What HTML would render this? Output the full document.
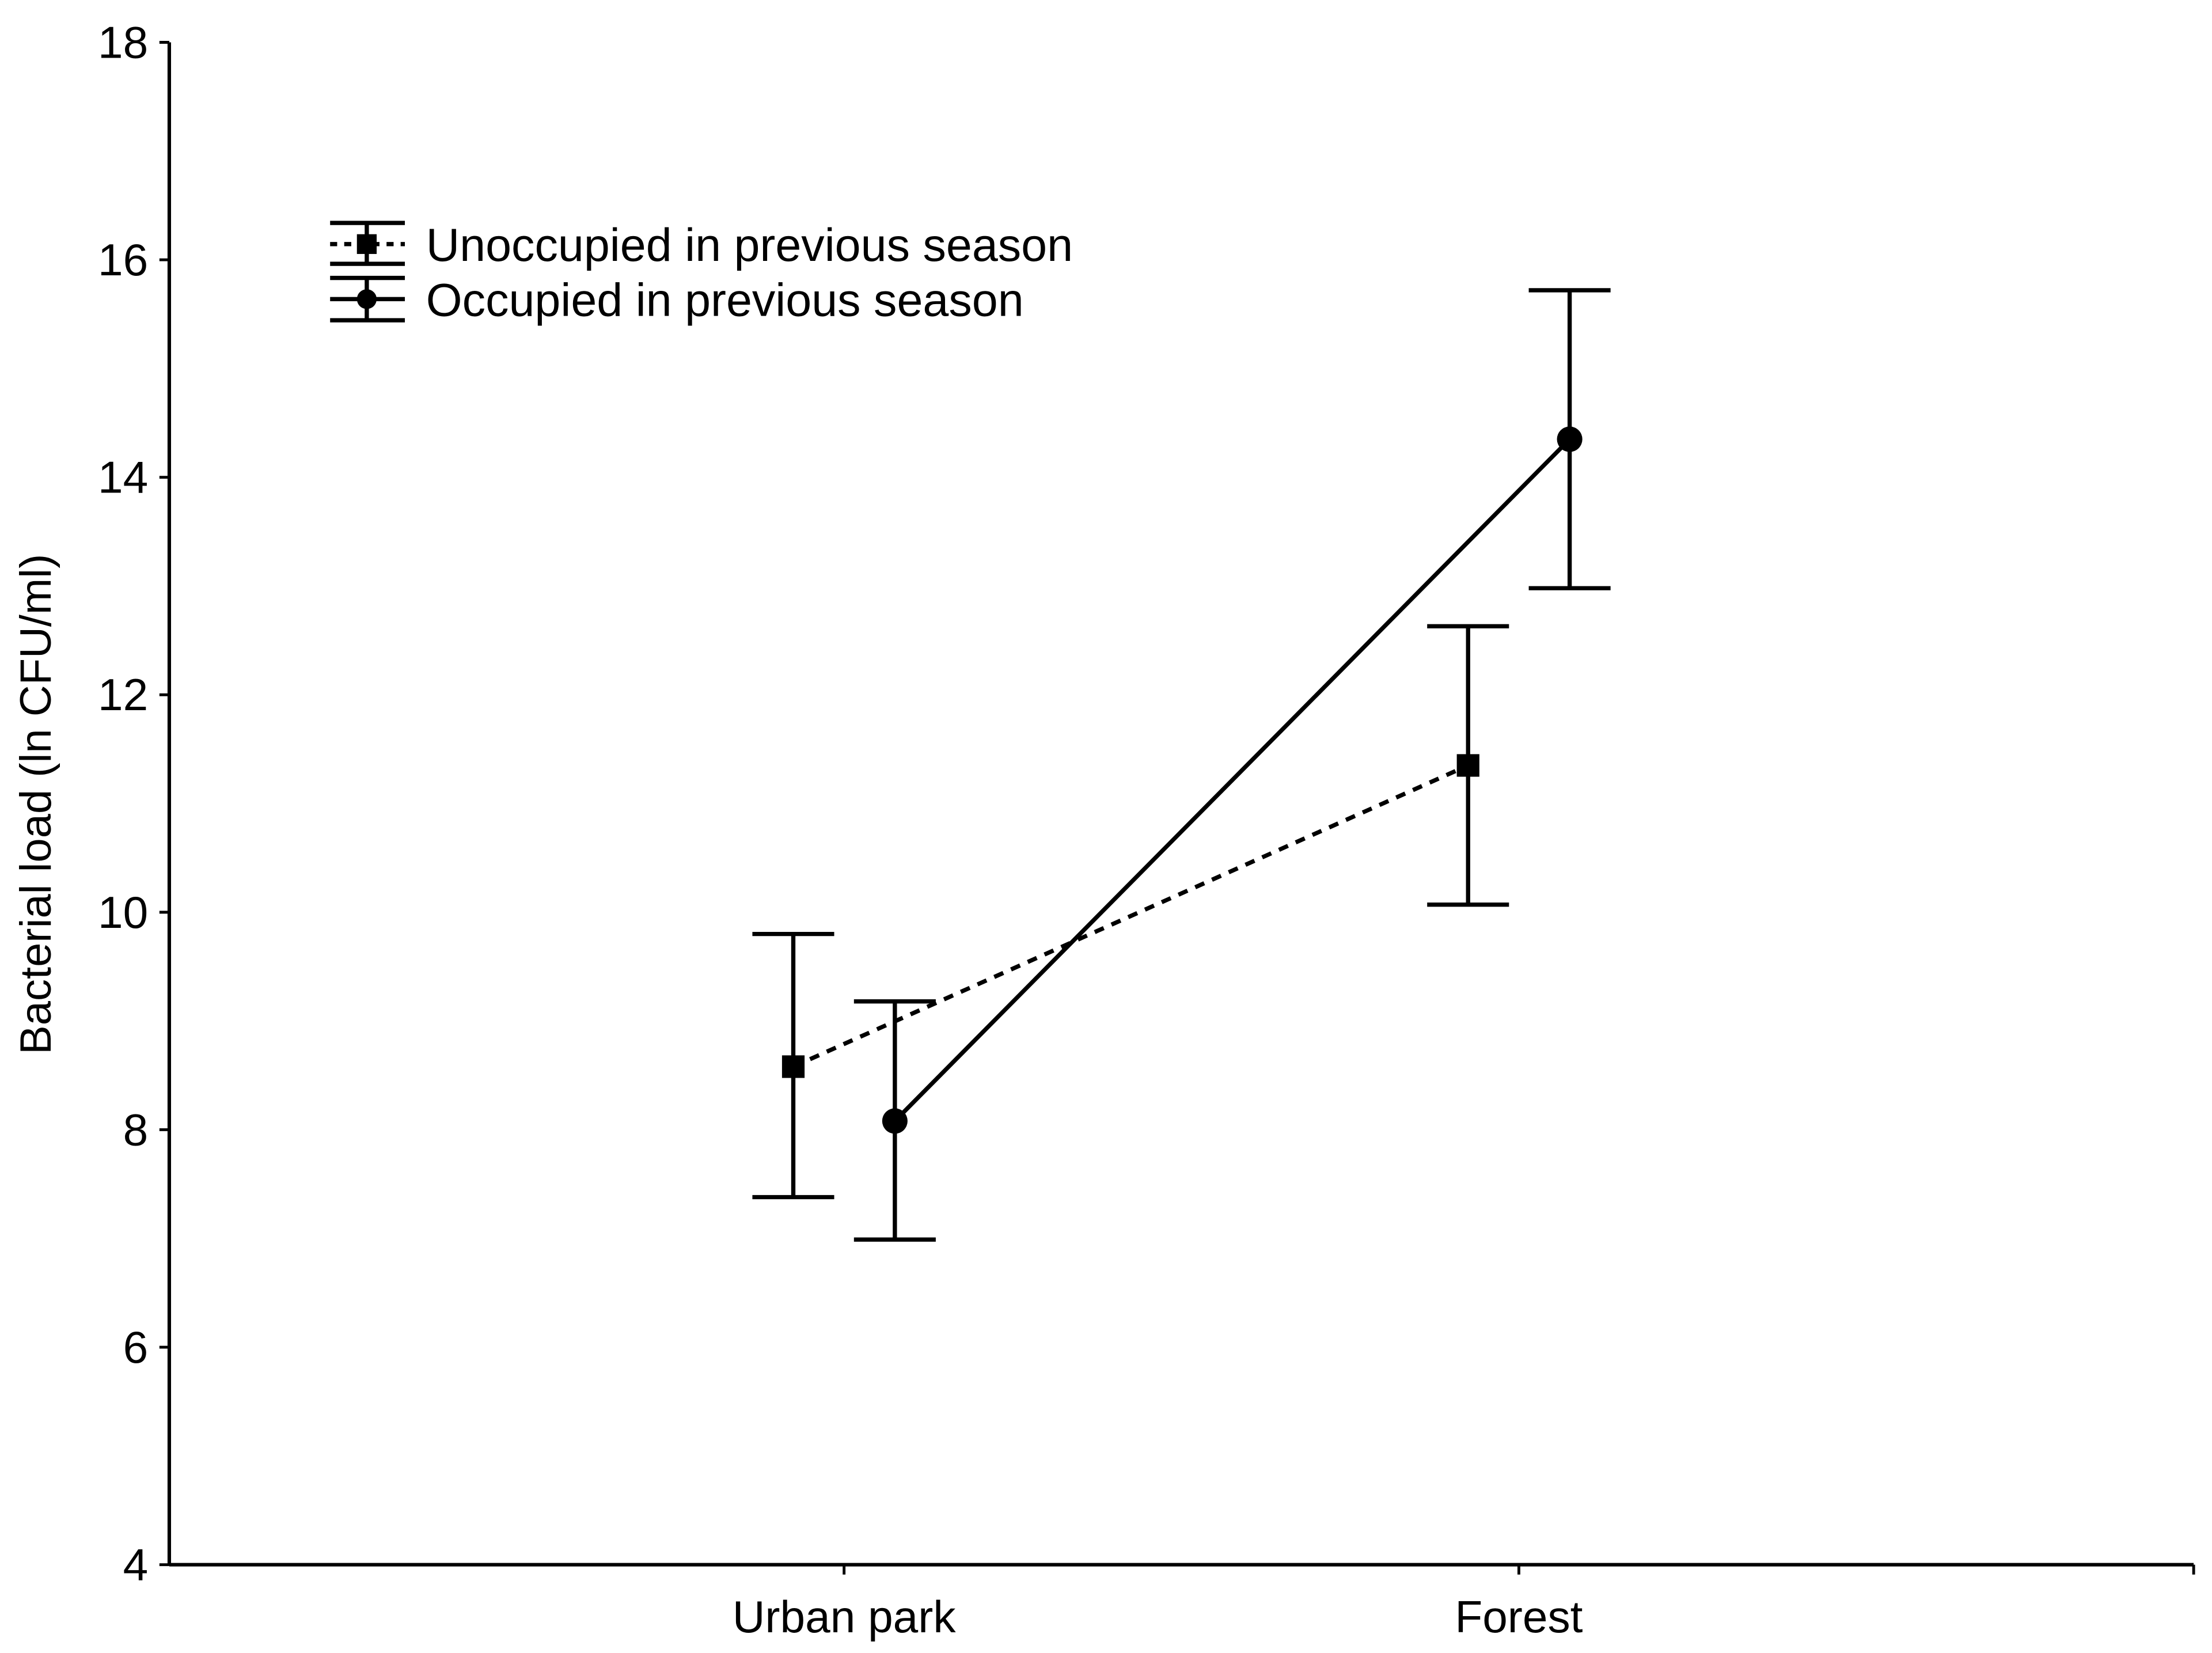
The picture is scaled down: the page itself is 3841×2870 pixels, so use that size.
<!DOCTYPE html>
<html><head><meta charset="utf-8"><style>
html,body{margin:0;padding:0;background:#fff;}
svg{display:block;}
text{font-family:"Liberation Sans",Arial,sans-serif;fill:#000;}
</style></head><body>
<svg id="chart" width="3841" height="2870" viewBox="0 0 1568 1171.6" xmlns="http://www.w3.org/2000/svg">
<g id="axes"></g>
<g id="marks"></g>
<g id="legend">
  <line x1="234" y1="158" x2="287" y2="158" stroke="#000" stroke-width="3"/>
  <line x1="234" y1="187" x2="287" y2="187" stroke="#000" stroke-width="3"/>
  <line x1="260" y1="158" x2="260" y2="187" stroke="#000" stroke-width="3"/>
  <line x1="234" y1="173" x2="287" y2="173" stroke="#000" stroke-width="3" stroke-dasharray="5,5"/>
  <rect x="253" y="166" width="14" height="14" fill="#000"/>
  <line x1="234" y1="197" x2="287" y2="197" stroke="#000" stroke-width="3"/>
  <line x1="234" y1="227" x2="287" y2="227" stroke="#000" stroke-width="3"/>
  <line x1="260" y1="197" x2="260" y2="227" stroke="#000" stroke-width="3"/>
  <line x1="234" y1="212" x2="287" y2="212" stroke="#000" stroke-width="3"/>
  <circle cx="260" cy="212" r="7" fill="#000"/>
  <text x="302" y="185" font-size="33">Unoccupied in previous season</text>
  <text x="302" y="224" font-size="33">Occupied in previous season</text>
</g>
</svg>
<script>
const categories = ["Urban park", "Forest"];
const yTicks = [4, 6, 8, 10, 12, 14, 16, 18];
const unoccMean = [8.58, 11.35];
const unoccLow = [7.38, 10.07];
const unoccHigh = [9.80, 12.63];
const occMean = [8.08, 14.35];
const occLow = [6.99, 12.98];
const occHigh = [9.18, 15.72];

const NS = "http://www.w3.org/2000/svg";
const X0 = 120, X1 = 1555, YT = 30, YB = 1109;
const yMin = 4, yMax = 18;
function yScale(v){ return YB - (v - yMin) / (yMax - yMin) * (YB - YT); }
function xScale(i){ return X0 + (i + 1) * (X1 - X0) / (categories.length + 1); }
function mk(tag, attrs, parent){
  const e = document.createElementNS(NS, tag);
  for (const k in attrs) e.setAttribute(k, attrs[k]);
  parent.appendChild(e); return e;
}
const axes = document.getElementById('axes');
const marks = document.getElementById('marks');
let el = mk('line', {x1:X0, y1:YT, x2:X0, y2:YB, stroke:'#000', 'stroke-width':2.5}, axes);


el = mk('line', {x1:X0, y1:YB, x2:X1, y2:YB, stroke:'#000', 'stroke-width':2.5}, axes);


mk('line', {x1:X1, y1:YB, x2:X1, y2:YB+7, stroke:'#000', 'stroke-width':2}, axes);
yTicks.forEach(v => {
  const y = yScale(v);
  mk('line', {x1:X0-7, y1:y, x2:X0, y2:y, stroke:'#000', 'stroke-width':2}, axes);
  const t = mk('text', {x:X0-15, y:y+11, 'font-size':32, 'text-anchor':'end'}, axes);
  t.textContent = v;
  
  
});
categories.forEach((c, i) => {
  const x = xScale(i);
  mk('line', {x1:x, y1:YB, x2:x, y2:YB+7, stroke:'#000', 'stroke-width':2}, axes);
  const t = mk('text', {x:x, y:1157, 'font-size':32, 'text-anchor':'middle'}, axes);
  t.textContent = c;
  
  
});
const yt = mk('text', {x:0, y:0, 'font-size':31, 'text-anchor':'middle', transform:'translate(36,570) rotate(-90)'}, axes);
yt.textContent = 'Bacterial load (ln CFU/ml)';



function series(name, mean, lo, hi, off, dashed, shape){
  const pts = mean.map((m, i) => [xScale(i) + off, yScale(m)]);
  const ln = mk('polyline', {points: pts.map(p => p.join(',')).join(' '), fill:'none', stroke:'#000', 'stroke-width':3, 'stroke-dasharray': dashed ? '7,6' : 'none'}, marks);
  
  
  mean.forEach((m, i) => {
    const x = xScale(i) + off;
    const g = mk('g', {}, marks);
    
    
    mk('line', {x1:x, y1:yScale(lo[i]), x2:x, y2:yScale(hi[i]), stroke:'#000', 'stroke-width':3}, g);
    mk('line', {x1:x-29, y1:yScale(lo[i]), x2:x+29, y2:yScale(lo[i]), stroke:'#000', 'stroke-width':3}, g);
    mk('line', {x1:x-29, y1:yScale(hi[i]), x2:x+29, y2:yScale(hi[i]), stroke:'#000', 'stroke-width':3}, g);
    let p;
    if (shape === 'sq') p = mk('rect', {x:x-8, y:yScale(m)-8, width:16, height:16, fill:'#000'}, marks);
    else p = mk('circle', {cx:x, cy:yScale(m), r:9, fill:'#000'}, marks);
    
    
  });
}
series('unoccupied', unoccMean, unoccLow, unoccHigh, -36, true, 'sq');
series('occupied', occMean, occLow, occHigh, 36, false, 'ci');
</script>
</body></html>
